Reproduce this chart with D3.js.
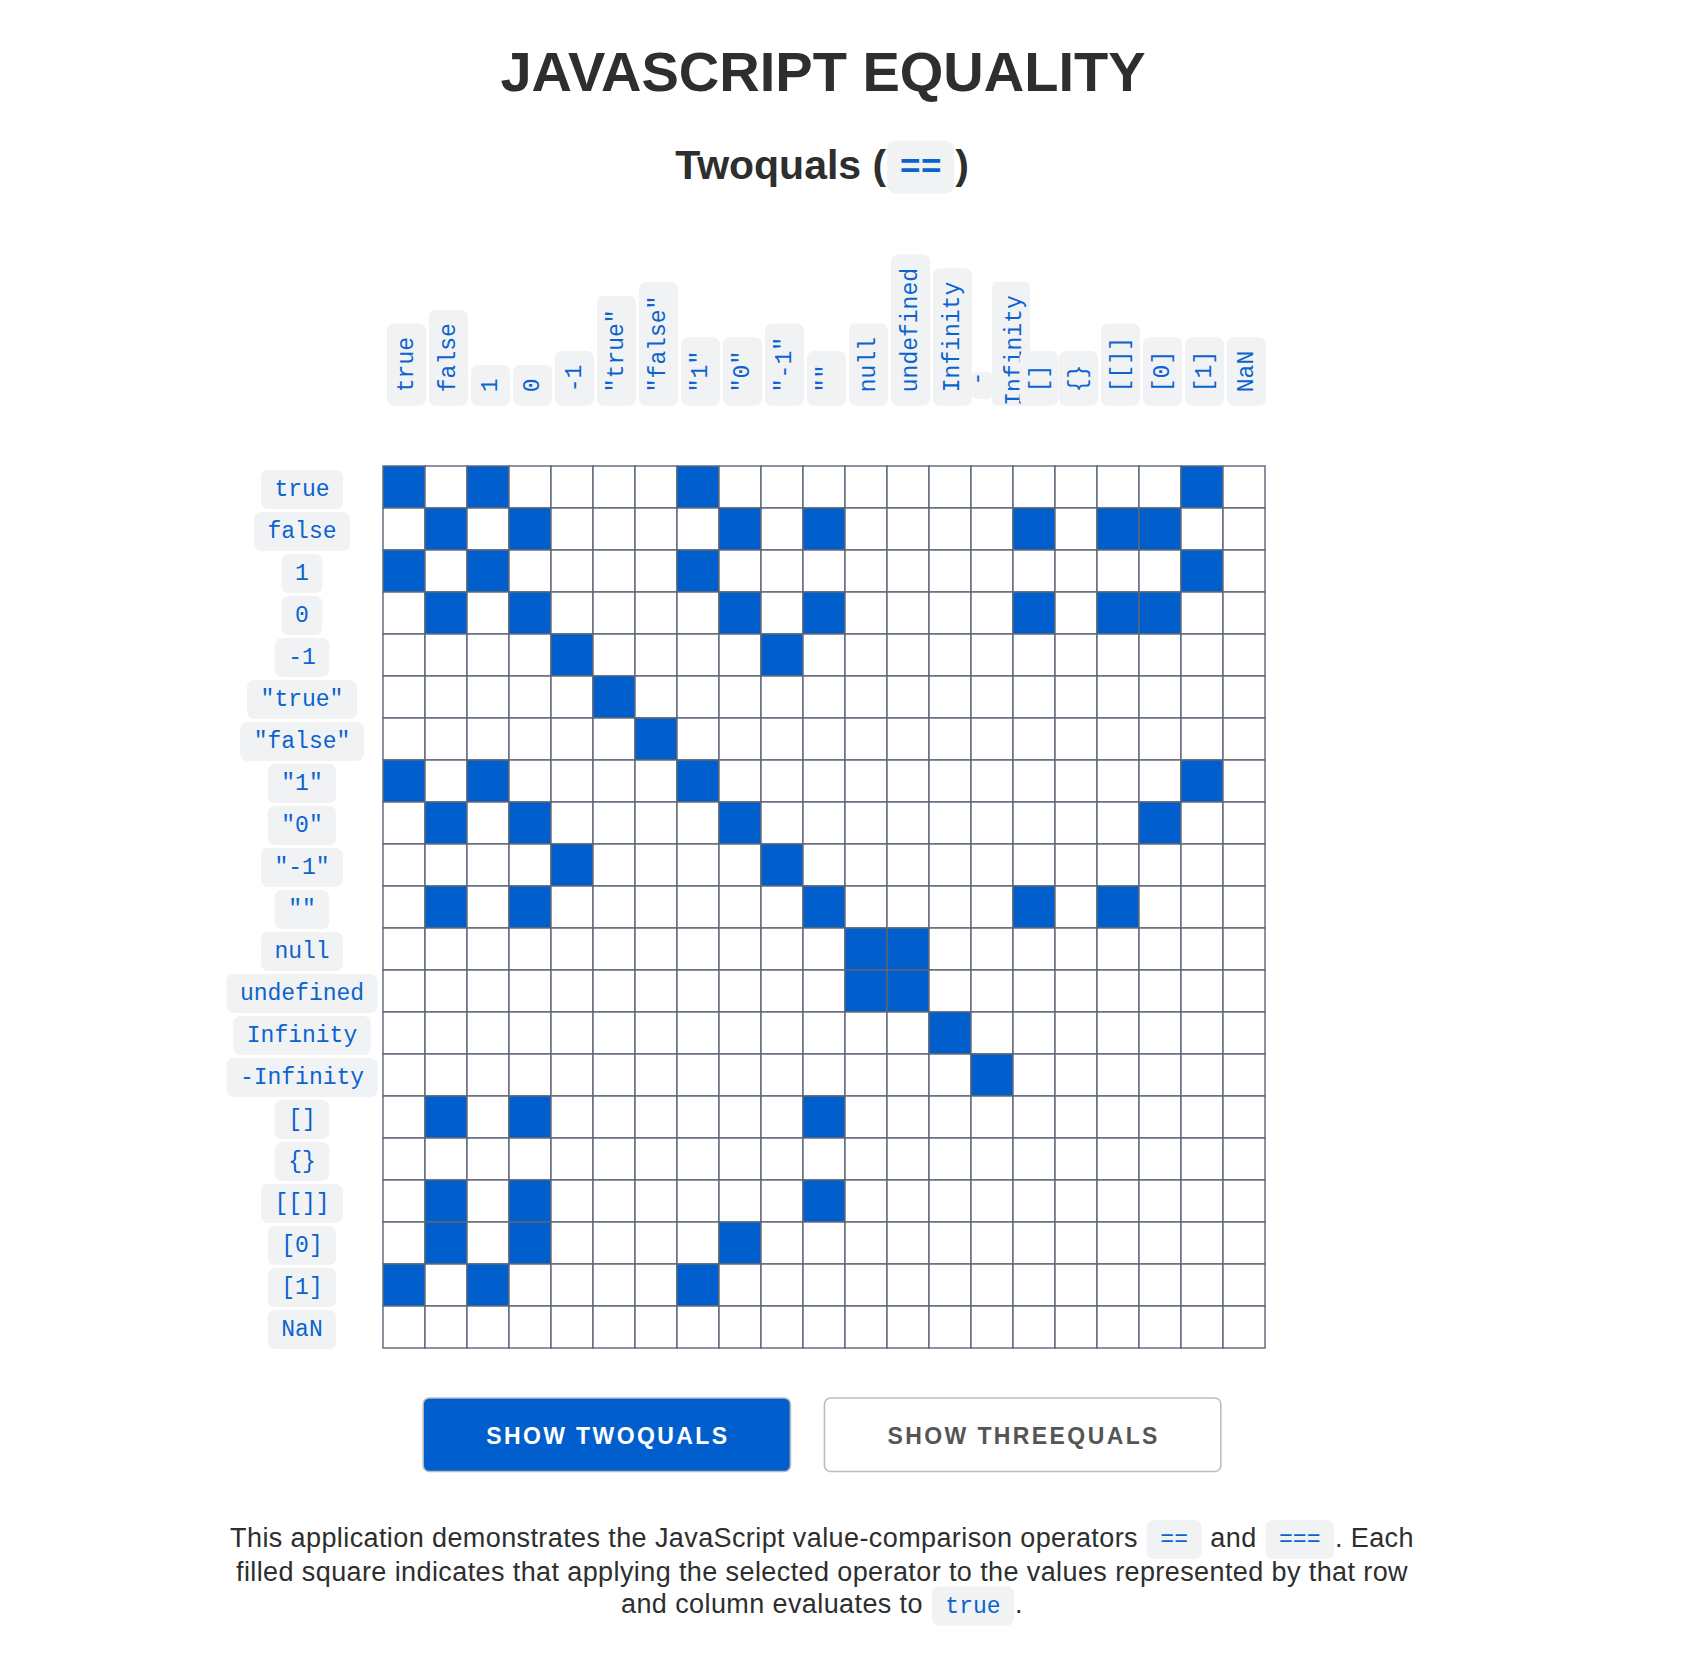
<!DOCTYPE html>
<html>
<head>
<meta charset="utf-8">
<title>JavaScript Equality</title>
<script src="https://cdn.jsdelivr.net/npm/d3@7"></script>
<style>
  body { margin: 0; background: #fff; }
  svg text { font-family: "Liberation Sans", Arial, Helvetica, sans-serif; }
  svg text.code { font-family: "Liberation Mono", "Courier New", monospace; fill: #0b63ce; }
</style>
</head>
<body>
<svg id="chart"></svg>
<script>
// Values compared against each other (rows and columns use the same list)
const values = ["true", "false", "1", "0", "-1", '"true"', '"false"', '"1"', '"0"', '"-1"', '""',
  "null", "undefined", "Infinity", "-Infinity", "[]", "{}", "[[]]", "[0]", "[1]", "NaN"];

// Result of row == column, 1 means it evaluates to true
const twoquals = [
  [1,0,1,0,0,0,0,1,0,0,0,0,0,0,0,0,0,0,0,1,0], // true
  [0,1,0,1,0,0,0,0,1,0,1,0,0,0,0,1,0,1,1,0,0], // false
  [1,0,1,0,0,0,0,1,0,0,0,0,0,0,0,0,0,0,0,1,0], // 1
  [0,1,0,1,0,0,0,0,1,0,1,0,0,0,0,1,0,1,1,0,0], // 0
  [0,0,0,0,1,0,0,0,0,1,0,0,0,0,0,0,0,0,0,0,0], // -1
  [0,0,0,0,0,1,0,0,0,0,0,0,0,0,0,0,0,0,0,0,0], // "true"
  [0,0,0,0,0,0,1,0,0,0,0,0,0,0,0,0,0,0,0,0,0], // "false"
  [1,0,1,0,0,0,0,1,0,0,0,0,0,0,0,0,0,0,0,1,0], // "1"
  [0,1,0,1,0,0,0,0,1,0,0,0,0,0,0,0,0,0,1,0,0], // "0"
  [0,0,0,0,1,0,0,0,0,1,0,0,0,0,0,0,0,0,0,0,0], // "-1"
  [0,1,0,1,0,0,0,0,0,0,1,0,0,0,0,1,0,1,0,0,0], // ""
  [0,0,0,0,0,0,0,0,0,0,0,1,1,0,0,0,0,0,0,0,0], // null
  [0,0,0,0,0,0,0,0,0,0,0,1,1,0,0,0,0,0,0,0,0], // undefined
  [0,0,0,0,0,0,0,0,0,0,0,0,0,1,0,0,0,0,0,0,0], // Infinity
  [0,0,0,0,0,0,0,0,0,0,0,0,0,0,1,0,0,0,0,0,0], // -Infinity
  [0,1,0,1,0,0,0,0,0,0,1,0,0,0,0,0,0,0,0,0,0], // []
  [0,0,0,0,0,0,0,0,0,0,0,0,0,0,0,0,0,0,0,0,0], // {}
  [0,1,0,1,0,0,0,0,0,0,1,0,0,0,0,0,0,0,0,0,0], // [[]]
  [0,1,0,1,0,0,0,0,1,0,0,0,0,0,0,0,0,0,0,0,0], // [0]
  [1,0,1,0,0,0,0,1,0,0,0,0,0,0,0,0,0,0,0,0,0], // [1]
  [0,0,0,0,0,0,0,0,0,0,0,0,0,0,0,0,0,0,0,0,0]  // NaN
];

const pageTitle = "JAVASCRIPT EQUALITY";
const subtitle = ["Twoquals (", "==", ")"];
const buttonLabels = ["SHOW TWOQUALS", "SHOW THREEQUALS"];
const activeButton = 0;

// paragraph under the buttons, one entry per line: [kind, text]
const noteLines = [
  [["text", "This application demonstrates the JavaScript value-comparison operators "], ["code", "=="],
   ["text", " and "], ["code", "==="], ["text", ". Each"]],
  [["text", "filled square indicates that applying the selected operator to the values represented by that row"]],
  [["text", "and column evaluates to "], ["code", "true"], ["text", "."]]
];

const width = 1682, height = 1664;
const centerX = 822;
const blue = "#005fcc";
const pillFill = "#f1f2f4";
const inkColor = "#2e2e2e";

const svg = d3.select("#chart").attr("width", width).attr("height", height);

// scales for the matrix
const cell = 42;
const gridLeft = 383, gridTop = 466;
const x = d3.scaleBand().domain(values).range([gridLeft, gridLeft + cell * values.length]);
const y = d3.scaleBand().domain(values).range([gridTop, gridTop + cell * values.length]);

// pill shaped code label, origin at left edge / vertical middle
function addPill(parent, label, size, padX, h, r, bold) {
    const g = parent.append("g");
    const rect = g.append("rect").attr("fill", pillFill).attr("rx", r).attr("ry", r);
    const t = g.append("text")
        .attr("class", "code")
        .attr("x", padX)
        .attr("y", size * 0.3)
        .style("font-size", size + "px")
        .style("font-weight", bold ? "bold" : "normal")
        .text(label);
    const w = t.node().getComputedTextLength() + 2 * padX;
    rect.attr("x", 0).attr("y", -h / 2).attr("width", w).attr("height", h);
    return { g, w };
}

// Title
svg.append("text")
    .attr("x", centerX + 1)
    .attr("y", 91)
    .attr("text-anchor", "middle")
    .attr("fill", inkColor)
    .style("font-size", "56px")
    .style("font-weight", "bold")
    .text(pageTitle);

// Subtitle with the operator in a code pill
const sub = svg.append("g");
const subA = sub.append("text").attr("fill", inkColor)
    .style("font-size", "41px").style("font-weight", "bold").text(subtitle[0]);
const wA = subA.node().getComputedTextLength();
const subPill = addPill(sub, subtitle[1], 35, 12.5, 53, 9, true);
subPill.g.attr("transform", `translate(${wA + 1}, -12)`);
const subC = sub.append("text").attr("fill", inkColor)
    .attr("x", wA + 1 + subPill.w + 1)
    .style("font-size", "41px").style("font-weight", "bold").text(subtitle[2]);
const subW = wA + 2 + subPill.w + subC.node().getComputedTextLength();
sub.attr("transform", `translate(${centerX - subW / 2}, 179)`);

// Cells
const cells = [];
twoquals.forEach((row, i) => row.forEach((v, j) => cells.push({ r: values[i], c: values[j], v })));

svg.append("g")
    .selectAll("rect")
    .data(cells)
    .join("rect")
    .attr("x", d => x(d.c))
    .attr("y", d => y(d.r))
    .attr("width", x.bandwidth())
    .attr("height", y.bandwidth())
    .attr("fill", d => d.v ? blue : "#fff")
    .attr("stroke", "#5c6676")
    .attr("stroke-width", 1.4);

// Row labels
const rowG = svg.append("g");
values.forEach(d => {
    const p = addPill(rowG, d, 23, 13.5, 39, 7);
    p.g.attr("transform", `translate(${302 - p.w / 2}, ${y(d) + cell / 2 + 2.5})`);
});

// Column labels, rotated, wrap at a hyphen when too long
const colG = svg.append("g");
const headerBottom = 405.7;
const maxHeader = 140;
let pushed = 0; // a wrapped header nudges the next one a little to the right
values.forEach(d => {
    const g = colG.append("g")
        .attr("transform", `translate(${x(d) + cell / 2 + 2.5 + pushed}, ${headerBottom}) rotate(-90)`);
    pushed = 0;
    const p = addPill(g, d, 23, 13.5, 39, 7);
    const cut = d.lastIndexOf("-");
    if (p.w > maxHeader && cut >= 0) {
        p.g.remove();
        pushed = 2.5;
        const parts = [d.slice(0, cut + 1), d.slice(cut + 1)];
        // first fragment: padding at the start only
        const g0 = g.append("g");
        const r0 = g0.append("rect").attr("fill", pillFill).attr("rx", 5);
        const t0 = g0.append("text").attr("class", "code").style("font-size", "23px")
            .attr("x", 6.7 + 13.5).attr("y", -10.5).text(parts[0]);
        const l0 = t0.node().getComputedTextLength();
        r0.attr("x", 6.7).attr("y", -22.5).attr("width", 13.5 + l0).attr("height", 20);
        // second fragment: padding at the end only
        const g1 = g.append("g");
        const r1 = g1.append("rect").attr("fill", pillFill).attr("rx", 5);
        const t1 = g1.append("text").attr("class", "code").style("font-size", "23px")
            .attr("x", 0).attr("y", 26.5).text(parts[1]);
        const l1 = t1.node().getComputedTextLength();
        r1.attr("x", 0).attr("y", -2.5).attr("width", l1 + 13.5).attr("height", 38);
    }
});

// Buttons
const btnG = svg.append("g");
const btnPad = 62, btnGap = 34, btnTop = 1398, btnH = 73.5;
const btns = buttonLabels.map((label, i) => {
    const g = btnG.append("g");
    const rect = g.append("rect")
        .attr("rx", 6).attr("ry", 6)
        .attr("fill", i === activeButton ? blue : "#fff")
        .attr("stroke", "#bdbdbd")
        .attr("stroke-width", 1.6);
    const t = g.append("text")
        .attr("text-anchor", "middle")
        .attr("fill", i === activeButton ? "#fff" : "#555")
        .style("font-size", "23px")
        .style("font-weight", "bold")
        .style("letter-spacing", "2.4px")
        .text(label);
    const w = t.node().getComputedTextLength() + 2 * btnPad;
    return { g, rect, t, w };
});
const btnTotal = d3.sum(btns, b => b.w) + btnGap * (btns.length - 1);
let bx = centerX - btnTotal / 2;
btns.forEach(b => {
    b.rect.attr("x", bx).attr("y", btnTop).attr("width", b.w).attr("height", btnH);
    b.t.attr("x", bx + b.w / 2 + 1).attr("y", 1444);
    bx += b.w + btnGap;
});

// Explanation text
const noteG = svg.append("g");
const noteBase = [1546.5, 1580.5, 1613];
noteLines.forEach((segs, li) => {
    const line = noteG.append("g");
    let cx = 0;
    segs.forEach(([kind, str]) => {
        if (kind === "text") {
            const t = line.append("text")
                .attr("x", cx)
                .attr("fill", inkColor)
                .style("font-size", "27px")
                .style("letter-spacing", "0.4px")
                .style("white-space", "pre")
                .attr("xml:space", "preserve")
                .text(str);
            cx += t.node().getComputedTextLength();
        } else {
            const p = addPill(line, str, 23, 13.5, 39, 7);
            p.g.attr("transform", `translate(${cx + 1}, -7)`);
            cx += p.w + 2;
        }
    });
    line.attr("transform", `translate(${centerX - cx / 2}, ${noteBase[li]})`);
});
</script>
</body>
</html>
